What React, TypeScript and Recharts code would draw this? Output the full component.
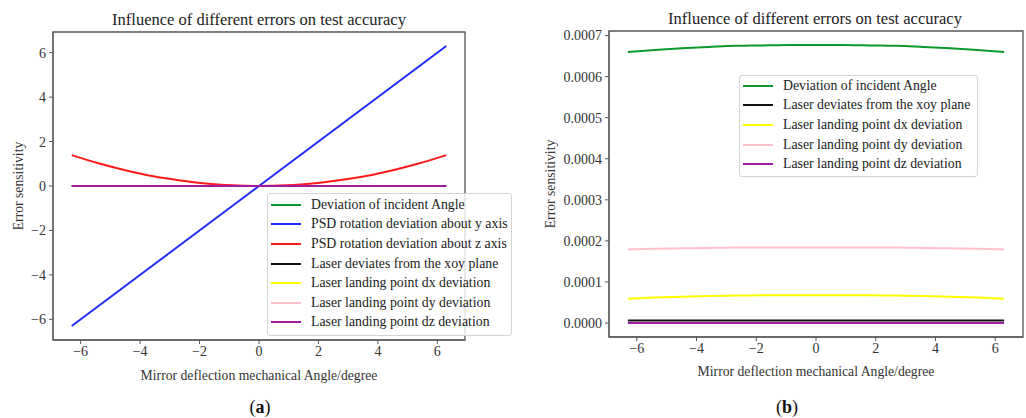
import { LineChart, Line, XAxis, YAxis, Legend, ReferenceArea, Label } from "recharts";

const SERIF = "'Liberation Serif', 'Times New Roman', serif";

// mirror deflection angle (deg), shared by both panels
const ANGLE = [-6.3, -5.4, -4.5, -3.6, -2.7, -1.8, -0.9, 0, 0.9, 1.8, 2.7, 3.6, 4.5, 5.4, 6.3];

// panel (a)
const A_INCIDENT = [0, 0, 0, 0, 0, 0, 0, 0, 0, 0, 0, 0, 0, 0, 0];
const A_PSD_Y = [-6.3, -5.4, -4.5, -3.6, -2.7, -1.8, -0.9, 0, 0.9, 1.8, 2.7, 3.6, 4.5, 5.4, 6.3];
const A_PSD_Z = [1.39, 1.02, 0.71, 0.45, 0.26, 0.11, 0.03, 0, 0.03, 0.11, 0.26, 0.45, 0.71, 1.02, 1.39];
const A_XOY = [0, 0, 0, 0, 0, 0, 0, 0, 0, 0, 0, 0, 0, 0, 0];
const A_DX = [0, 0, 0, 0, 0, 0, 0, 0, 0, 0, 0, 0, 0, 0, 0];
const A_DY = [0, 0, 0, 0, 0, 0, 0, 0, 0, 0, 0, 0, 0, 0, 0];
const A_DZ = [0, 0, 0, 0, 0, 0, 0, 0, 0, 0, 0, 0, 0, 0, 0];

// panel (b)
const B_INCIDENT = [0.00066, 0.000665, 0.000669, 0.000672, 0.000675, 0.000676, 0.000677, 0.000677, 0.000677, 0.000676, 0.000675, 0.000672, 0.000669, 0.000665, 0.00066];
const B_XOY = [0.000006, 0.000006, 0.000006, 0.000006, 0.000006, 0.000006, 0.000006, 0.000006, 0.000006, 0.000006, 0.000006, 0.000006, 0.000006, 0.000006, 0.000006];
const B_DX = [0.000059, 0.000062, 0.000064, 0.000066, 0.000067, 0.000068, 0.000068, 0.000068, 0.000068, 0.000068, 0.000067, 0.000066, 0.000064, 0.000062, 0.000059];
const B_DY = [0.000179, 0.000181, 0.000182, 0.000183, 0.000184, 0.000184, 0.000184, 0.000184, 0.000184, 0.000184, 0.000184, 0.000183, 0.000182, 0.000181, 0.000179];
const B_DZ = [0, 0, 0, 0, 0, 0, 0, 0, 0, 0, 0, 0, 0, 0, 0];

const X_TICKS = [-6, -4, -2, 0, 2, 4, 6];
const A_Y_TICKS = [-6, -4, -2, 0, 2, 4, 6];
const B_Y_TICKS = [0, 0.0001, 0.0002, 0.0003, 0.0004, 0.0005, 0.0006, 0.0007];

const X_DOMAIN: [number, number] = [-6.93, 6.93];
const A_Y_DOMAIN: [number, number] = [-6.93, 6.93];
const B_Y_DOMAIN: [number, number] = [-0.0000339, 0.000711];

const NAMES = {
  incident: "Deviation of incident Angle",
  psdY: "PSD rotation deviation about y axis",
  psdZ: "PSD rotation deviation about z axis",
  xoy: "Laser deviates from the xoy plane",
  dx: "Laser landing point dx deviation",
  dy: "Laser landing point dy deviation",
  dz: "Laser landing point dz deviation",
};
const ORDER = [NAMES.incident, NAMES.psdY, NAMES.psdZ, NAMES.xoy, NAMES.dx, NAMES.dy, NAMES.dz];

const COLORS = {
  green: "#0a9a2a",
  blue: "#1f2bff",
  red: "#ff1a1a",
  black: "#111111",
  yellow: "#ffff00",
  pink: "#ffc0cb",
  purple: "#a01c9c",
};

const dataA = ANGLE.map((x, i) => ({
  x,
  incident: A_INCIDENT[i],
  psdY: A_PSD_Y[i],
  psdZ: A_PSD_Z[i],
  xoy: A_XOY[i],
  dx: A_DX[i],
  dy: A_DY[i],
  dz: A_DZ[i],
}));

const dataB = ANGLE.map((x, i) => ({
  x,
  incident: B_INCIDENT[i],
  xoy: B_XOY[i],
  dx: B_DX[i],
  dy: B_DY[i],
  dz: B_DZ[i],
}));

const minus = (v: number) => String(v).replace("-", "\u2212");

const tickStyle = { fill: "#333", fontSize: 14, fontFamily: SERIF, style: { fontFamily: SERIF } };
const spine = "#555";

const LegendBox = ({ payload, padTop, padBottom }: any) => {
  const items = [...(payload || [])].sort((a: any, b: any) => ORDER.indexOf(a.value) - ORDER.indexOf(b.value));
  return (
    <div
      style={{
        border: "1px solid #d4d4d4",
        borderRadius: 3,
        background: "rgba(255,255,255,0.8)",
        paddingTop: padTop,
        paddingBottom: padBottom,
        boxSizing: "border-box",
        fontFamily: SERIF,
        fontSize: 13.8,
        color: "#222",
      }}
    >
      {items.map((p: any) => (
        <div key={p.value} style={{ display: "flex", alignItems: "center", height: 19.6 }}>
          <span style={{ width: 30, height: 2, background: p.color, marginLeft: 3, marginRight: 10, flexShrink: 0 }} />
          <span style={{ whiteSpace: "nowrap" }}>{p.value}</span>
        </div>
      ))}
    </div>
  );
};

const yLabel = (x: number) => ({ viewBox }: any) => {
  const cy = viewBox.y + viewBox.height / 2;
  return (
    <text
      x={x}
      y={cy}
      transform={`rotate(-90, ${x}, ${cy})`}
      textAnchor="middle"
      dominantBaseline="central"
      style={{ fontFamily: SERIF, fontSize: 13.7, fill: "#333" }}
    >
      Error sensitivity
    </text>
  );
};

const Title = ({ text, cx, y }: { text: string; cx: number; y: number }) => (
  <div
    style={{
      position: "absolute",
      left: cx - 200,
      width: 400,
      top: y,
      textAlign: "center",
      fontSize: 16.5,
      color: "#222",
      lineHeight: "18px",
    }}
  >
    {text}
  </div>
);

const Caption = ({ letter, cx }: { letter: string; cx: number }) => (
  <div
    style={{
      position: "absolute",
      left: cx - 30,
      width: 60,
      top: 396,
      textAlign: "center",
      fontSize: 18,
      color: "#111",
      lineHeight: "22px",
    }}
  >
    (<b>{letter}</b>)
  </div>
);

const xLabel = {
  value: "Mirror deflection mechanical Angle/degree",
  position: "insideBottom" as const,
  offset: 38,
  style: { fontFamily: SERIF, fontSize: 13.7, fill: "#333" },
};

export default function App() {
  return (
    <div
      style={{
        position: "absolute",
        left: 0,
        top: 0,
        width: 1026,
        height: 418,
        background: "#fff",
        overflow: "hidden",
        fontFamily: SERIF,
      }}
    >
      <Title text="Influence of different errors on test accuracy" cx={259} y={11} />
      <Title text="Influence of different errors on test accuracy" cx={815} y={10} />
      <Caption letter="a" cx={260} />
      <Caption letter="b" cx={787} />

      <div style={{ position: "absolute", left: 0, top: 0 }}>
        <LineChart width={520} height={418} data={dataA} margin={{ top: 32, right: 55, bottom: 0, left: 0 }}>
          <XAxis
            dataKey="x"
            type="number"
            domain={X_DOMAIN}
            ticks={X_TICKS}
            allowDataOverflow
            tickFormatter={minus}
            tick={tickStyle}
            tickSize={4}
            tickMargin={2}
            tickLine={{ stroke: spine }}
            axisLine={{ stroke: spine }}
            height={78}
            label={xLabel}
          />
          <YAxis
            type="number"
            domain={A_Y_DOMAIN}
            ticks={A_Y_TICKS}
            allowDataOverflow
            tickFormatter={minus}
            tick={tickStyle}
            tickSize={4}
            tickMargin={3}
            tickLine={{ stroke: spine }}
            axisLine={{ stroke: spine }}
            width={53}
          >
            <Label content={yLabel(18)} />
          </YAxis>
          <ReferenceArea x1={X_DOMAIN[0]} x2={X_DOMAIN[1]} y1={A_Y_DOMAIN[0]} y2={A_Y_DOMAIN[1]} fill="none" stroke={spine} strokeWidth={1.3} />
          <Line type="monotone" dataKey="incident" name={NAMES.incident} stroke={COLORS.green} strokeWidth={2} dot={false} isAnimationActive={false} />
          <Line type="monotone" dataKey="psdY" name={NAMES.psdY} stroke={COLORS.blue} strokeWidth={2} dot={false} isAnimationActive={false} />
          <Line type="monotone" dataKey="psdZ" name={NAMES.psdZ} stroke={COLORS.red} strokeWidth={2} dot={false} isAnimationActive={false} />
          <Line type="monotone" dataKey="xoy" name={NAMES.xoy} stroke={COLORS.black} strokeWidth={2} dot={false} isAnimationActive={false} />
          <Line type="monotone" dataKey="dx" name={NAMES.dx} stroke={COLORS.yellow} strokeWidth={2} dot={false} isAnimationActive={false} />
          <Line type="monotone" dataKey="dy" name={NAMES.dy} stroke={COLORS.pink} strokeWidth={2} dot={false} isAnimationActive={false} />
          <Line type="monotone" dataKey="dz" name={NAMES.dz} stroke={COLORS.purple} strokeWidth={2} dot={false} isAnimationActive={false} />
          <Legend
            layout="vertical"
            align="center"
            verticalAlign="middle"
            wrapperStyle={{ left: 267, top: 193, width: 245 }}
            content={<LegendBox padTop={1} padBottom={3} />}
          />
        </LineChart>
      </div>

      <div style={{ position: "absolute", left: 520, top: 0 }}>
        <LineChart width={506} height={418} data={dataB} margin={{ top: 31, right: 3, bottom: 0, left: 0 }}>
          <XAxis
            dataKey="x"
            type="number"
            domain={X_DOMAIN}
            ticks={X_TICKS}
            allowDataOverflow
            tickFormatter={minus}
            tick={tickStyle}
            tickSize={4}
            tickMargin={2}
            tickLine={{ stroke: spine }}
            axisLine={{ stroke: spine }}
            height={81}
            label={{ ...xLabel, offset: 42 }}
          />
          <YAxis
            type="number"
            domain={B_Y_DOMAIN}
            ticks={B_Y_TICKS}
            allowDataOverflow
            tickFormatter={(v: number) => v.toFixed(4)}
            tick={tickStyle}
            tickSize={4}
            tickMargin={3}
            tickLine={{ stroke: spine }}
            axisLine={{ stroke: spine }}
            width={89}
          >
            <Label content={yLabel(30)} />
          </YAxis>
          <ReferenceArea x1={X_DOMAIN[0]} x2={X_DOMAIN[1]} y1={B_Y_DOMAIN[0]} y2={B_Y_DOMAIN[1]} fill="none" stroke={spine} strokeWidth={1.3} />
          <Line type="monotone" dataKey="incident" name={NAMES.incident} stroke={COLORS.green} strokeWidth={2} dot={false} isAnimationActive={false} />
          <Line type="monotone" dataKey="xoy" name={NAMES.xoy} stroke={COLORS.black} strokeWidth={2} dot={false} isAnimationActive={false} />
          <Line type="monotone" dataKey="dx" name={NAMES.dx} stroke={COLORS.yellow} strokeWidth={2} dot={false} isAnimationActive={false} />
          <Line type="monotone" dataKey="dy" name={NAMES.dy} stroke={COLORS.pink} strokeWidth={2} dot={false} isAnimationActive={false} />
          <Line type="monotone" dataKey="dz" name={NAMES.dz} stroke={COLORS.purple} strokeWidth={2} dot={false} isAnimationActive={false} />
          <Legend
            layout="vertical"
            align="center"
            verticalAlign="middle"
            wrapperStyle={{ left: 219, top: 75, width: 239 }}
            content={<LegendBox padTop={0} padBottom={2} />}
          />
        </LineChart>
      </div>
    </div>
  );
}
